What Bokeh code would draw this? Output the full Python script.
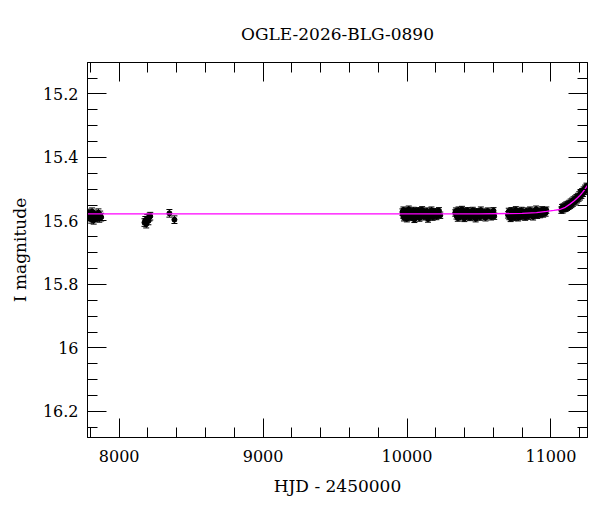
import numpy as np
from bokeh.plotting import figure
from bokeh.models import (ColumnDataSource, LinearAxis, FixedTicker, Range1d,
                          CustomJSTickFormatter, CustomLabelingPolicy)
from bokeh.embed import file_html
from bokeh.resources import INLINE

# ---------------- data ----------------
title_text = "OGLE-2026-BLG-0890"
x_label = "HJD - 2450000"
y_label = "I magnitude"

x_major_ticks = [8000, 9000, 10000, 11000]
x_minor_ticks = [7800, 8200, 8400, 8600, 8800, 9200, 9400, 9600, 9800, 10200,
                 10400, 10600, 10800, 11200]
y_major_ticks = [15.2, 15.4, 15.6, 15.8, 16.0, 16.2]
y_minor_ticks = [15.15, 15.25, 15.3, 15.35, 15.45, 15.5, 15.55, 15.65, 15.7,
                 15.75, 15.85, 15.9, 15.95, 16.05, 16.1, 16.15, 16.25]

t_early = [7790, 7795, 7800, 7806, 7812, 7818, 7823, 7829, 7836, 7850, 7856,
           7862, 7868, 7875, 8176, 8182, 8188, 8195, 8203, 8210, 8216, 8349, 8384]
m_early = [15.575, 15.588, 15.580, 15.595, 15.571, 15.583, 15.598, 15.578,
           15.590, 15.585, 15.574, 15.592, 15.581, 15.588, 15.605, 15.598,
           15.610, 15.592, 15.600, 15.588, 15.585, 15.576, 15.596]
err_early = 0.012

t_season_a = [9968, 9972, 9975, 9979, 9983, 9986, 9990, 9994, 9999, 10003, 10008,
              10012, 10017, 10021, 10026, 10031, 10035, 10040, 10046, 10051, 10057,
              10062, 10068, 10074, 10080, 10086, 10092, 10098, 10105, 10111, 10118,
              10125, 10132, 10139, 10146, 10154, 10162, 10170, 10178, 10186, 10195,
              10204, 10213, 10222, 10231]
m_season_a = [15.572, 15.581, 15.566, 15.590, 15.578, 15.569, 15.584, 15.575, 15.593,
              15.571, 15.580, 15.563, 15.586, 15.577, 15.570, 15.589, 15.574, 15.582,
              15.567, 15.595, 15.576, 15.571, 15.585, 15.579, 15.568, 15.591, 15.574,
              15.583, 15.565, 15.578, 15.587, 15.572, 15.580, 15.569, 15.594, 15.577,
              15.583, 15.566, 15.588, 15.575, 15.571, 15.586, 15.579, 15.568, 15.582]

t_season_b = [10335, 10340, 10344, 10349, 10353, 10358, 10362, 10367, 10372, 10377,
              10382, 10387, 10392, 10398, 10403, 10409, 10414, 10420, 10426, 10432,
              10438, 10444, 10450, 10457, 10463, 10470, 10477, 10484, 10491, 10498,
              10506, 10513, 10521, 10529, 10537, 10545, 10553, 10561, 10569, 10577,
              10584, 10590, 10596, 10601, 10606]
m_season_b = [15.575, 15.569, 15.584, 15.578, 15.591, 15.566, 15.580, 15.573, 15.587,
              15.577, 15.564, 15.582, 15.575, 15.592, 15.570, 15.579, 15.586, 15.568,
              15.583, 15.576, 15.589, 15.572, 15.580, 15.567, 15.585, 15.577, 15.593,
              15.571, 15.581, 15.574, 15.588, 15.566, 15.579, 15.584, 15.572, 15.590,
              15.576, 15.569, 15.583, 15.578, 15.587, 15.573, 15.580, 15.568, 15.585]

t_season_c = [10702, 10707, 10711, 10716, 10720, 10725, 10730, 10735, 10740, 10745,
              10750, 10756, 10761, 10767, 10772, 10778, 10784, 10790, 10796, 10802,
              10808, 10815, 10821, 10828, 10834, 10841, 10848, 10855, 10862, 10869,
              10876, 10883, 10890, 10897, 10904, 10911, 10918, 10925, 10932, 10939,
              10946, 10952, 10958, 10963, 10968]
m_season_c = [15.581, 15.570, 15.586, 15.575, 15.592, 15.568, 15.579, 15.584, 15.573,
              15.589, 15.576, 15.565, 15.582, 15.577, 15.590, 15.571, 15.580, 15.586,
              15.567, 15.578, 15.583, 15.574, 15.588, 15.569, 15.579, 15.585, 15.572,
              15.566, 15.581, 15.575, 15.587, 15.570, 15.578, 15.563, 15.582, 15.574,
              15.569, 15.580, 15.576, 15.565, 15.578, 15.571, 15.568, 15.575, 15.566]

t_season_d = [11072, 11077, 11082, 11087, 11092, 11097, 11102, 11107, 11112, 11117,
              11122, 11127, 11132, 11137, 11142, 11147, 11152, 11157, 11162, 11167,
              11172, 11177, 11182, 11187, 11192, 11197, 11202, 11207, 11212, 11217,
              11222, 11227, 11232, 11237, 11242, 11247, 11252]
m_season_d = [15.566, 15.558, 15.565, 15.556, 15.561, 15.553, 15.560, 15.550, 15.557,
              15.548, 15.554, 15.545, 15.551, 15.541, 15.548, 15.538, 15.544, 15.534,
              15.540, 15.531, 15.537, 15.527, 15.533, 15.523, 15.528, 15.518, 15.524,
              15.514, 15.519, 15.508, 15.513, 15.503, 15.507, 15.497, 15.501, 15.491,
              15.494]
err_seasons = 0.010

model_t = [7780, 9000, 10000, 10500, 10800, 10900, 10970, 11020, 11062, 11100,
           11132, 11160, 11185, 11201, 11220, 11235, 11248, 11256]
model_m = [15.578, 15.578, 15.578, 15.578, 15.576, 15.574, 15.570, 15.567, 15.564,
           15.557, 15.547, 15.537, 15.527, 15.520, 15.510, 15.501, 15.492, 15.487]

x_range = (7780, 11254)
y_range = (16.282, 15.101)

# ---------------- build ----------------
t_all = np.array(t_early + t_season_a + t_season_b + t_season_c + t_season_d, dtype=float)
m_all = np.array(m_early + m_season_a + m_season_b + m_season_c + m_season_d)
e_all = np.array([err_early] * len(t_early) +
                 [err_seasons] * (len(t_all) - len(t_early)))
src = ColumnDataSource(dict(t=t_all, m=m_all, lo=m_all - e_all, hi=m_all + e_all))

FONT = "DejaVu Serif"

p = figure(width=592, height=504, output_backend="svg", toolbar_location=None,
           x_range=Range1d(*x_range), y_range=Range1d(*y_range),
           min_border_left=87, min_border_right=5, min_border_top=62,
           min_border_bottom=67, x_axis_location=None, y_axis_location=None)
p.background_fill_color = "white"
p.border_fill_color = "white"
p.outline_line_color = "black"
p.outline_line_width = 1
p.grid.visible = False
p.title.visible = False

xt = FixedTicker(ticks=x_major_ticks, minor_ticks=x_minor_ticks)
yt = FixedTicker(ticks=y_major_ticks, minor_ticks=y_minor_ticks)
yfmt = CustomJSTickFormatter(code="return String(Math.round(tick*10)/10);")
no_labels = CustomLabelingPolicy(code="for (const i of Array.from(indices)) indices.unset(i); return indices;")


def style(ax, labels):
    ax.axis_line_color = "black"
    ax.major_tick_line_color = "black"
    ax.minor_tick_line_color = "black"
    ax.major_tick_in = 19
    ax.major_tick_out = 0
    ax.minor_tick_in = 10
    ax.minor_tick_out = 0
    ax.axis_label_text_font = FONT
    ax.axis_label_text_font_size = "17px"
    ax.axis_label_text_font_style = "normal"
    ax.axis_label_text_color = "black"
    if labels:
        ax.major_label_text_font = FONT
        ax.major_label_text_font_size = "16px"
        ax.major_label_text_color = "black"
    else:
        ax.major_label_policy = no_labels
        ax.major_label_text_font_size = "0px"
        ax.major_label_standoff = 0


xb = LinearAxis(ticker=xt, axis_label=x_label)
style(xb, True)
xb.major_label_standoff = 12
xb.axis_label_standoff = 11
p.add_layout(xb, "below")

# top axis: mirrored ticks, carries the chart title as its label
xa = LinearAxis(ticker=xt, axis_label=title_text)
style(xa, False)
xa.axis_label_standoff = 19
p.add_layout(xa, "above")

yl = LinearAxis(ticker=yt, axis_label=y_label, formatter=yfmt)
style(yl, True)
yl.major_label_standoff = 9
yl.axis_label_standoff = 10
p.add_layout(yl, "left")

yr = LinearAxis(ticker=yt)
style(yr, False)
p.add_layout(yr, "right")

# error bars, caps, points
p.segment(x0="t", y0="lo", x1="t", y1="hi", source=src, line_color="black", line_width=1)
p.scatter(x="t", y="lo", source=src, marker="dash", size=6, line_color="black", line_width=1)
p.scatter(x="t", y="hi", source=src, marker="dash", size=6, line_color="black", line_width=1)
p.scatter(x="t", y="m", source=src, marker="circle", size=5, fill_color="black",
          line_color="black")

# model curve
p.line(x=model_t, y=model_m, line_color="#ff00ff", line_width=1.3)

open("out.html", "w").write(file_html(p, INLINE))
